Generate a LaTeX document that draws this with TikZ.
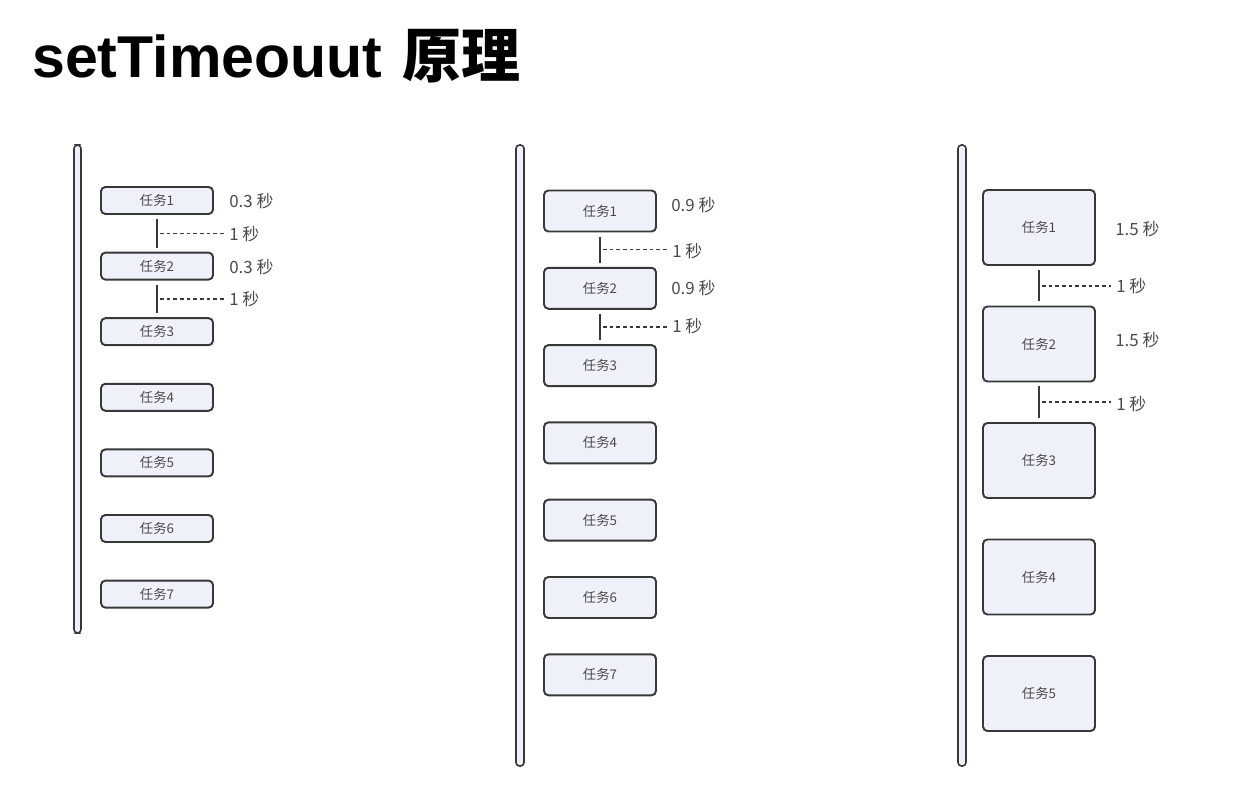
\documentclass[tikz,border=0pt]{standalone}
\usepackage{fontspec}
\setmainfont{Liberation Sans}
\newfontfamily\cjk{Noto Sans CJK SC}
\usetikzlibrary{positioning,calc}
\definecolor{boxfill}{HTML}{EFF1FA}
\definecolor{boxline}{HTML}{383838}
\definecolor{txtgray}{HTML}{4A4A4A}
\tikzset{
  task/.style={draw=boxline,fill=boxfill,line width=1.1pt,rounded corners=2.5pt,
    minimum width=2.24cm,inner sep=0pt,text=txtgray,font=\cjk\fontsize{7.6}{8}\selectfont},
  timebar/.style={draw=boxline,fill=boxfill,line width=0.9pt,rounded corners=2pt},
  waitline/.style={boxline,line width=1.1pt,shorten <=2.3pt,shorten >=2.3pt},
  gap/.style={boxline,line width=0.9pt,dash pattern=on 2pt off 1.8pt},
  secs/.style={anchor=west,inner sep=0pt,text=txtgray,font=\cjk\fontsize{9.6}{10}\selectfont}
}
\begin{document}
\begin{tikzpicture}[x=0.02cm,y=-0.02cm]
  \useasboundingbox (0,0) rectangle (1252,787);
  % title
  \node[anchor=base west,inner sep=0pt] (title) at (32,78)
    {\fontsize{33.6}{36}\selectfont\bfseries setTimeouut\hspace{2pt} {\cjk\bfseries 原理}};

  % 0.3 seconds
  \draw[timebar] (74,145) rectangle (81,633);
  \foreach \i in {1,...,7}
    \node[task,minimum height=0.54cm] (a\i) at (157,{200.5+65.6*(\i-1)}) {任务\i};
  \node[secs] (at1) at (229,201) {0.3 秒};
  \node[secs] (at2) at (229,267) {0.3 秒};
  \draw[waitline] (a1.south) -- (a2.north);
  \draw[waitline] (a2.south) -- (a3.north);
  \coordinate (am1) at ($(a1.south)!0.5!(a2.north)+(3,0)$);
  \coordinate (am2) at ($(a2.south)!0.5!(a3.north)+(3,0)$);
  \node[secs] (aw1) at (229,234) {1 秒};
  \node[secs] (aw2) at (229,299) {1 秒};
  \draw[gap] (am1) -- ($(am1 -| aw1.west)+(-5,0)$);
  \draw[gap] (am2) -- ($(am2 -| aw2.west)+(-5,0)$);

  % 0.9 seconds
  \draw[timebar] (516,145) rectangle (524,766);
  \foreach \i in {1,...,7}
    \node[task,minimum height=0.82cm] (b\i) at (600,{211+77.3*(\i-1)}) {任务\i};
  \node[secs] (bt1) at (671,205) {0.9 秒};
  \node[secs] (bt2) at (671,288) {0.9 秒};
  \draw[waitline] (b1.south) -- (b2.north);
  \draw[waitline] (b2.south) -- (b3.north);
  \coordinate (bm1) at ($(b1.south)!0.5!(b2.north)+(3,0)$);
  \coordinate (bm2) at ($(b2.south)!0.5!(b3.north)+(3,0)$);
  \node[secs] (bw1) at (672,251) {1 秒};
  \node[secs] (bw2) at (672,326) {1 秒};
  \draw[gap] (bm1) -- ($(bm1 -| bw1.west)+(-5,0)$);
  \draw[gap] (bm2) -- ($(bm2 -| bw2.west)+(-5,0)$);

  % 1.5 seconds
  \draw[timebar] (958,145) rectangle (966,766);
  \foreach \i in {1,...,5}
    \node[task,minimum height=1.5cm] (c\i) at (1039,{227.5+116.5*(\i-1)}) {任务\i};
  \node[secs] (ct1) at (1115,229) {1.5 秒};
  \node[secs] (ct2) at (1115,340) {1.5 秒};
  \draw[waitline] (c1.south) -- (c2.north);
  \draw[waitline] (c2.south) -- (c3.north);
  \coordinate (cm1) at ($(c1.south)!0.5!(c2.north)+(3,0)$);
  \coordinate (cm2) at ($(c2.south)!0.5!(c3.north)+(3,0)$);
  \node[secs] (cw1) at (1116,286) {1 秒};
  \node[secs] (cw2) at (1116,404) {1 秒};
  \draw[gap] (cm1) -- ($(cm1 -| cw1.west)+(-5,0)$);
  \draw[gap] (cm2) -- ($(cm2 -| cw2.west)+(-5,0)$);
\end{tikzpicture}
\end{document}
